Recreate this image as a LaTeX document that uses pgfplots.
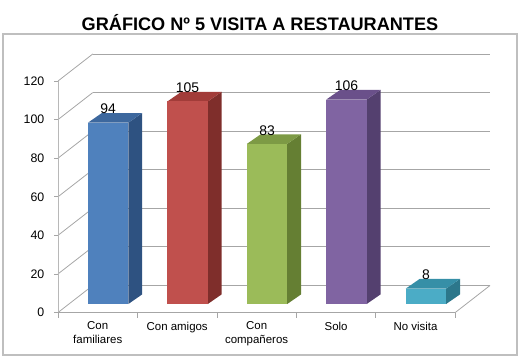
\documentclass[border=0pt]{standalone}
\usepackage{pgfplots}
\pgfplotsset{compat=1.18}
\usepackage{pgfplotstable}
\usepackage{fontspec}
\setmainfont{Liberation Sans}

\definecolor{gridc}{HTML}{A6A6A6}
\definecolor{framec}{HTML}{BFBFBF}
% face colours of the five columns: front, top, right side
\definecolor{front0}{HTML}{4F81BD}\definecolor{top0}{HTML}{3D689E}\definecolor{side0}{HTML}{2E5281}
\definecolor{front1}{HTML}{C0504D}\definecolor{top1}{HTML}{A23C39}\definecolor{side1}{HTML}{7F2E2B}
\definecolor{front2}{HTML}{9BBB59}\definecolor{top2}{HTML}{7D9A45}\definecolor{side2}{HTML}{657F33}
\definecolor{front3}{HTML}{8064A2}\definecolor{top3}{HTML}{6A508A}\definecolor{side3}{HTML}{54406F}
\definecolor{front4}{HTML}{4BACC6}\definecolor{top4}{HTML}{368FA7}\definecolor{side4}{HTML}{2C778B}

\pgfplotsset{/pgf/number format/assume math mode=true}

\pgfplotstableread{
idx value
0 94
1 105
2 83
3 106
4 8
}\visits

% depth of the back wall (x in category units, y in value units)
\def\wallx{0.4375}
\def\wally{14}
% offset of the column fronts and depth of the columns
\def\fx{0.131}
\def\fy{4.4}
\def\bdx{0.175}
\def\bdy{5.0}
\def\hw{0.254}

\tikzset{catlabel/.style={anchor=north, inner sep=0, yshift=-9.2bp, align=center,
    font=\fontsize{11.5}{13.8}\selectfont}}

\begin{document}
\begin{tikzpicture}[x=1bp,y=1bp]
\useasboundingbox (0,0) rectangle (522,357);
\draw[framec, line width=1.2bp] (3,2) rectangle (517,323);
\node[anchor=base, inner sep=0, font=\bfseries\fontsize{18.2}{21}\selectfont] at (260,327) {GRÁFICO Nº 5 VISITA A RESTAURANTES};
\begin{axis}[
  at={(58bp,44.5bp)}, anchor=south west,
  scale only axis, width=432bp, height=258.5bp,
  xmin=-0.5, xmax=4.9375, ymin=0, ymax=134,
  hide axis, clip=false]

% walls, grid and floor
\pgfplotsinvokeforeach{0,20,...,120}{
  \draw[gridc, line width=0.9bp] (axis cs:-0.5+\wallx,#1+\wally) -- (axis cs:4.5+\wallx,#1+\wally);
  \draw[gridc, line width=0.8bp] (axis cs:-0.5,#1) -- (axis cs:-0.5+\wallx,#1+\wally);
  \draw[gridc, line width=0.8bp] (axis cs:-0.5,#1) -- (axis cs:-0.55,#1);
  \node[anchor=east, inner sep=0, xshift=-13.5bp, font=\fontsize{12.4}{14}\selectfont] at (axis cs:-0.5,#1) {#1};
}
\draw[gridc!80, line width=0.8bp] (axis cs:-0.5,0) -- (axis cs:-0.5,120);
\draw[gridc, line width=0.8bp] (axis cs:-0.5,0) -- (axis cs:4.5,0) -- (axis cs:4.5+\wallx,\wally);
\pgfplotsinvokeforeach{-0.5,0.5,...,4.5}{
  \draw[gridc, line width=0.8bp] (axis cs:#1,0) -- (axis cs:#1,-2.6);
}

% columns
\pgfplotsforeachungrouped \i in {0,...,4}{
  \pgfplotstablegetelem{\i}{value}\of\visits
  \let\val\pgfplotsretval
  \pgfmathsetmacro\xa{\i+\fx-\hw}
  \pgfmathsetmacro\xb{\i+\fx+\hw}
  \pgfmathsetmacro\xc{\xa+\bdx}
  \pgfmathsetmacro\xd{\xb+\bdx}
  \pgfmathsetmacro\ya{\fy}
  \pgfmathsetmacro\yb{\val+\fy}
  \pgfmathsetmacro\yc{\ya+\bdy}
  \pgfmathsetmacro\yd{\yb+\bdy}
  \edef\drawcolumn{%
    \noexpand\addplot[draw=none, fill=side\i, forget plot] coordinates {(\xb,\ya) (\xd,\yc) (\xd,\yd) (\xb,\yb)};
    \noexpand\addplot[draw=none, fill=top\i, forget plot] coordinates {(\xa,\yb) (\xb,\yb) (\xd,\yd) (\xc,\yd)};
    \noexpand\addplot[draw=none, fill=front\i, forget plot] coordinates {(\xa,\ya) (\xb,\ya) (\xb,\yb) (\xa,\yb)};
  }\drawcolumn
}

% value labels
\addplot[draw=none, mark=none, forget plot, point meta=explicit,
  nodes near coords,
  nodes near coords style={anchor=center, yshift=13.5bp, inner sep=0,
    font=\fontsize{14}{16}\selectfont, text=black}]
  table[x expr=\thisrow{idx}+\fx, y expr=\thisrow{value}+\fy, meta=value] {\visits};

% category names
\node[catlabel] at (axis cs:0,0) {Con\\familiares};
\node[catlabel] at (axis cs:1,0) {Con amigos};
\node[catlabel] at (axis cs:2,0) {Con\\compañeros};
\node[catlabel] at (axis cs:3,0) {Solo};
\node[catlabel] at (axis cs:4,0) {No visita};
\end{axis}
\end{tikzpicture}
\end{document}
